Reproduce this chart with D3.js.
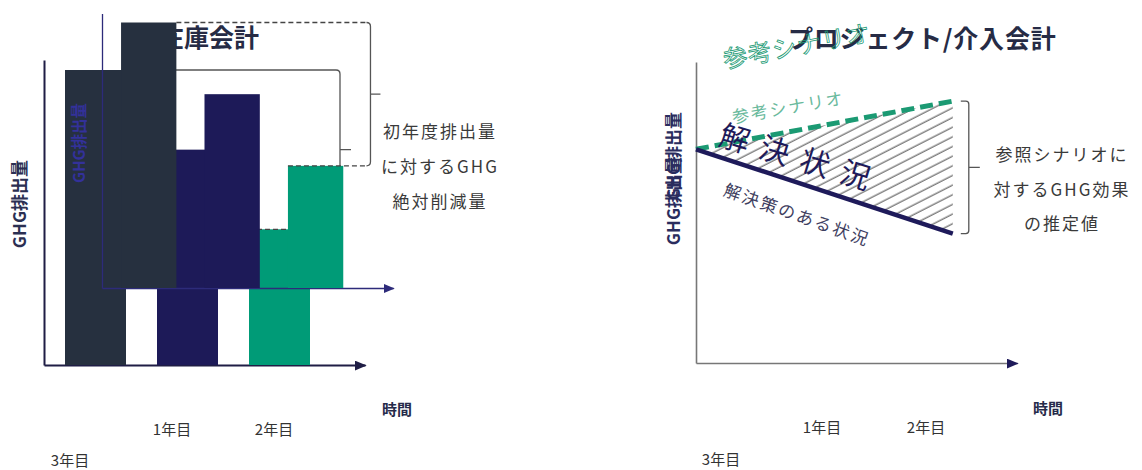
<!DOCTYPE html>
<html>
<head>
<meta charset="utf-8">
<script src="https://cdn.jsdelivr.net/npm/d3@7"></script>
<style>
  body { margin: 0; background: #fff; }
  svg { display: block; font-family: "Noto Sans CJK JP", "Noto Sans", sans-serif; }
</style>
</head>
<body>
<svg id="chart" width="1142" height="470"></svg>
<script>
// inventory accounting (left): emissions relative to the base year
const barYears = ["初年度", "1年目", "2年目"];
const inventoryEmissions = [100, 73, 46];
const barColors = ["#26303f", "#1d1a58", "#009b77"];

// project / intervention accounting (right)
const timePoints = [0, 8];
const referenceScenario = [71, 87];
const solutionScenario = [71, 43];

const yearLabels = ["1年目", "2年目", "3年目"];
const axisLabelY = "GHG排出量";
const axisLabelX = "時間";
const leftTitle = "在庫会計";
const rightTitle = "プロジェクト/介入会計";
const leftNote = ["初年度排出量", "に対するGHG", "絶対削減量"];
const rightNote = ["参照シナリオに", "対するGHG効果", "の推定値"];
const refLabel = "参考シナリオ";
const solLabel = "解決策のある状況";
const solLabelBig = "解決状況";

const svg = d3.select("#chart");
const defs = svg.append("defs");

function arrowMarker(id, color, len, wid) {
  defs.append("marker")
    .attr("id", id)
    .attr("viewBox", "0 0 10 10")
    .attr("preserveAspectRatio", "none")
    .attr("refX", 9).attr("refY", 5)
    .attr("markerUnits", "userSpaceOnUse")
    .attr("markerWidth", len).attr("markerHeight", wid)
    .attr("orient", "auto")
    .append("path")
    .attr("d", "M0,0L10,5L0,10Z")
    .attr("fill", color);
}
arrowMarker("arrowDark", "#1f1d45", 12, 10);
arrowMarker("arrowBlue", "#2d2b7a", 11, 9);
arrowMarker("arrowRight", "#1e1a5a", 12, 10);

defs.append("pattern")
  .attr("id", "hatch")
  .attr("patternUnits", "userSpaceOnUse")
  .attr("width", 8.6).attr("height", 8.6)
  .attr("patternTransform", "rotate(63)")
  .append("line")
  .attr("x1", 4).attr("y1", 0).attr("x2", 4).attr("y2", 8.6)
  .attr("stroke", "#555").attr("stroke-width", 1.1);

// ---------- left: inventory chart, drawn twice (second copy scaled/shifted) ----------
function drawInventory(ox, oy, k, st) {
  const g = svg.append("g");
  const x = d3.scaleBand().domain(barYears)
    .range([ox - 10 * k, ox + 297 * k])
    .paddingInner(0.337).paddingOuter(0.337);
  const y = d3.scaleLinear().domain([0, 100]).range([oy, oy - 295 * st.ky]);
  const xAxisScale = d3.scaleLinear().range([ox, ox + 321 * k]);
  const yAxisScale = d3.scaleLinear().range([oy, oy - 305 * st.ky]);

  g.append("g")
    .attr("transform", `translate(${ox},0)`)
    .call(d3.axisLeft(yAxisScale).tickValues([]).tickSizeOuter(0))
    .select(".domain")
    .attr("stroke", st.axis).attr("stroke-width", st.axisW);

  g.append("g")
    .attr("transform", `translate(0,${oy})`)
    .call(d3.axisBottom(xAxisScale).tickValues([]).tickSizeOuter(0))
    .select(".domain")
    .attr("stroke", st.axis).attr("stroke-width", st.axisW)
    .attr("marker-end", `url(#${st.arrow})`);

  g.selectAll("rect.bar")
    .data(inventoryEmissions)
    .enter()
    .append("rect")
    .attr("class", "bar")
    .attr("x", (d, i) => x(barYears[i]))
    .attr("y", d => y(d))
    .attr("width", x.bandwidth())
    .attr("height", d => oy - y(d))
    .attr("fill", (d, i) => barColors[i]);

  // bracket: first-year level down to the last bar
  const bx = ox + 296 * k;
  const yTop = y(inventoryEmissions[0]);
  const yBot = y(inventoryEmissions[inventoryEmissions.length - 1]);
  const r = 4;
  g.append("path")
    .attr("d", `M${x(barYears[0]) + x.bandwidth()},${yTop}H${bx - r}`)
    .attr("fill", "none").attr("stroke", st.bracket).attr("stroke-width", 1.3)
    .attr("stroke-dasharray", st.topDash);
  g.append("path")
    .attr("d", `M${x(barYears[2])},${yBot}H${bx - r}`)
    .attr("fill", "none").attr("stroke", "#444").attr("stroke-width", 1.2)
    .attr("stroke-dasharray", "5,3");
  g.append("path")
    .attr("d", `M${bx - r},${yTop}Q${bx},${yTop} ${bx},${yTop + r}V${yBot - r}Q${bx},${yBot} ${bx - r},${yBot}`
      + `M${bx},${(yTop + yBot) / 2}h${11 * k}`)
    .attr("fill", "none").attr("stroke", "#555").attr("stroke-width", 1.3);

  g.append("text")
    .attr("transform", `translate(${ox - 26 * k},${oy - 161 * st.ky}) rotate(-90)`)
    .attr("text-anchor", "middle")
    .attr("dominant-baseline", "central")
    .style("font-size", `${17 * k}px`)
    .style("font-weight", 700)
    .attr("fill", st.label)
    .text(axisLabelY);
}

drawInventory(44, 365, 1, {
  ky: 1, axis: "#1f1d45", axisW: 2, arrow: "arrowDark",
  bracket: "#555", topDash: null, label: "#2b2f52"
});

svg.append("text")
  .attr("x", 159).attr("y", 47)
  .style("font-size", "25px").style("font-weight", 700)
  .attr("fill", "#262b45")
  .text(leftTitle);

drawInventory(102, 288, 0.907, {
  ky: 0.9, axis: "#2d2b7a", axisW: 1.3, arrow: "arrowBlue",
  bracket: "#444", topDash: "5,3", label: "#33319a"
});

function noteBlock(cx, ys, lines, size) {
  svg.append("g").selectAll("text")
    .data(lines)
    .enter()
    .append("text")
    .attr("x", cx)
    .attr("y", (d, i) => ys[i])
    .attr("text-anchor", "middle")
    .attr("dominant-baseline", "central")
    .style("font-size", size + "px")
    .style("letter-spacing", "2px")
    .attr("fill", "#3a3a3a")
    .text(d => d);
}
noteBlock(440, [130, 165, 200], leftNote, 17);

function tickText(x, y, t, bold) {
  svg.append("text")
    .attr("x", x).attr("y", y)
    .attr("text-anchor", "middle")
    .attr("dominant-baseline", "central")
    .style("font-size", "15px")
    .style("font-weight", bold ? 700 : 400)
    .attr("fill", bold ? "#262b4a" : "#333")
    .text(t);
}
tickText(172, 428, yearLabels[0]);
tickText(274, 428, yearLabels[1]);
tickText(70, 459, yearLabels[2]);
tickText(397, 408, axisLabelX, true);

// ---------- right: project / intervention chart ----------
const xR = d3.scaleLinear().domain([0, 10]).range([696, 1017]);
const yR = d3.scaleLinear().domain([0, 100]).range([363, 62]);
const right = svg.append("g");

right.append("text")
  .attr("x", 788).attr("y", 48)
  .style("font-size", "25px").style("font-weight", 700)
  .style("letter-spacing", "0.8px")
  .attr("fill", "#262b45")
  .text(rightTitle);

right.append("g")
  .attr("transform", `translate(${xR(0)},0)`)
  .call(d3.axisLeft(yR).tickValues([]).tickSizeOuter(0))
  .select(".domain").attr("stroke", "#777").attr("stroke-width", 1.6);

right.append("g")
  .attr("transform", `translate(0,${yR(0)})`)
  .call(d3.axisBottom(xR).tickValues([]).tickSizeOuter(0))
  .select(".domain").attr("stroke", "#777").attr("stroke-width", 1.6)
  .attr("marker-end", "url(#arrowRight)");

const idx = d3.range(timePoints.length);
right.append("path")
  .attr("d", d3.area()
    .x(i => xR(timePoints[i]))
    .y0(i => yR(solutionScenario[i]))
    .y1(i => yR(referenceScenario[i]))(idx))
  .attr("fill", "url(#hatch)");

right.append("path")
  .attr("d", d3.line().x(i => xR(timePoints[i])).y(i => yR(referenceScenario[i]))(idx))
  .attr("fill", "none").attr("stroke", "#1b9a73")
  .attr("stroke-width", 5).attr("stroke-dasharray", "13,6");

right.append("path")
  .attr("d", d3.line().x(i => xR(timePoints[i])).y(i => yR(solutionScenario[i]))(idx))
  .attr("fill", "none").attr("stroke", "#1e1a5a").attr("stroke-width", 4.5);

// bracket on the right of the hatched gap
const rx = xR(timePoints[1]) + 16;
const rTop = yR(referenceScenario[1]);
const rBot = yR(solutionScenario[1]);
right.append("path")
  .attr("d", `M${rx - 8},${rTop}H${rx - 3}Q${rx},${rTop} ${rx},${rTop + 3}V${rBot - 3}Q${rx},${rBot} ${rx - 3},${rBot}H${rx - 8}`
    + `M${rx},${(rTop + rBot) / 2}h11`)
  .attr("fill", "none").attr("stroke", "#555").attr("stroke-width", 1.3);

function slanted(x, y, angle, t, size, opts) {
  const el = right.append("text")
    .attr("transform", `translate(${x},${y}) rotate(${angle})`)
    .attr("dominant-baseline", "central")
    .style("font-size", size + "px")
    .style("letter-spacing", (opts.ls || 0) + "px")
    .style("font-weight", opts.weight || 400)
    .text(t);
  if (opts.outline) {
    el.attr("fill", "none").attr("stroke", opts.color).attr("stroke-width", 0.8);
  } else {
    el.attr("fill", opts.color).attr("opacity", opts.opacity || 1);
  }
}
slanted(723, 58, -10.5, refLabel, 24, { color: "#1a9a74", outline: true, ls: 1 });
slanted(732, 116, -10, refLabel, 17, { color: "#4fae8c", ls: 2, opacity: 0.85 });
slanted(721, 132, 17, solLabelBig, 30, { color: "#1e1a5a", ls: 12 });
slanted(725, 188, 19.5, solLabel, 17, { color: "#3e3e60", ls: 2.2 });

// y-axis label appears twice, shifted
[201, 156].forEach(cy => {
  right.append("text")
    .attr("transform", `translate(672,${cy}) rotate(-90)`)
    .attr("text-anchor", "middle")
    .attr("dominant-baseline", "central")
    .style("font-size", "17px").style("font-weight", 700)
    .attr("fill", "#2a2d5e")
    .text(axisLabelY);
});

noteBlock(1062, [153, 188, 222], rightNote, 17);

tickText(822, 426, yearLabels[0]);
tickText(926, 426, yearLabels[1]);
tickText(721, 458, yearLabels[2]);
tickText(1048, 407, axisLabelX, true);
</script>
</body>
</html>
